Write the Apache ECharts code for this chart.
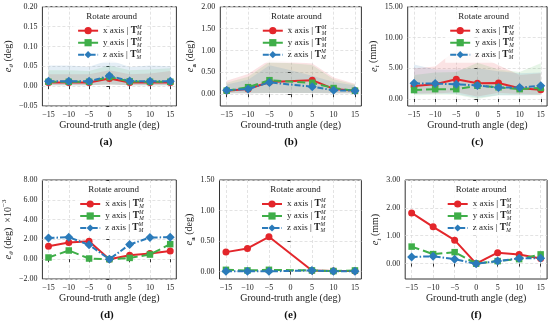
<!DOCTYPE html>
<html><head><meta charset="utf-8">
<script src="https://cdn.jsdelivr.net/npm/echarts@6/dist/echarts.min.js"></script>
<style>html,body{margin:0;padding:0;background:#fff}#c{width:550px;height:330px}</style>
</head><body><div id="c"></div>
<script>
// ---------- data ----------
const angles = [-15, -10, -5, 0, 5, 10, 15];
const xTickLabels = [-15, -10, -5, 0, 5, 10, 15];

// (a) e_theta (deg)
const aX = [0.009, 0.009, 0.009, 0.019, 0.009, 0.009, 0.009];
const aY = [0.011, 0.011, 0.011, 0.023, 0.012, 0.011, 0.011];
const aZ = [0.012, 0.012, 0.012, 0.026, 0.013, 0.012, 0.012];
const aXlo = [0.002, 0.002, 0.002, 0.004, 0.002, 0.002, 0.002];
const aXhi = [0.030, 0.030, 0.030, 0.040, 0.030, 0.032, 0.038];
const aYlo = [0.002, 0.002, 0.002, 0.004, 0.002, 0.002, 0.002];
const aYhi = [0.040, 0.040, 0.038, 0.052, 0.040, 0.042, 0.045];
const aZlo = [0.002, 0.002, 0.002, 0.004, 0.002, 0.002, 0.002];
const aZhi = [0.052, 0.052, 0.049, 0.066, 0.048, 0.052, 0.050];
const aYTicks = [-0.05, 0, 0.05, 0.10, 0.15, 0.20];

// (b) e_a (deg)  (no value at 0 deg)
const bX = [0.08, 0.12, 0.28, null, 0.32, 0.12, 0.08];
const bY = [0.08, 0.16, 0.32, null, 0.26, 0.14, 0.08];
const bZ = [0.09, 0.12, 0.27, null, 0.17, 0.09, 0.08];
const bXlo = [0.02, 0.02, 0.03, 0.03, 0.03, 0.02, 0.02];
const bXhi = [0.31, 0.46, 0.78, 0.74, 0.70, 0.38, 0.24];
const bYlo = [0.02, 0.02, 0.03, 0.03, 0.03, 0.02, 0.02];
const bYhi = [0.26, 0.40, 0.74, 0.71, 0.67, 0.34, 0.22];
const bZlo = [0.02, 0.02, 0.03, 0.03, 0.03, 0.02, 0.02];
const bZhi = [0.22, 0.33, 0.66, 0.55, 0.42, 0.28, 0.20];
const bYTicks = [0, 0.5, 1.0, 1.5, 2.0];

// (c) e_t (mm)
const cX = [2.1, 2.4, 3.2, 2.55, 2.6, 1.75, 1.5];
const cY = [1.45, 1.6, 1.6, 2.15, 1.9, 1.6, 1.8];
const cZ = [2.55, 2.5, 2.4, 2.2, 1.85, 1.85, 2.15];
const cXlo = [0.9, 0.9, 1.1, 0.4, 1.0, 0.8, 0.7];
const cXhi = [5.0, 5.3, 8.0, 7.2, 5.5, 3.9, 4.2];
const cYlo = [0.6, 0.7, 0.7, 0.0, 0.6, 0.6, 0.6];
const cYhi = [3.9, 4.3, 4.4, 5.9, 4.8, 4.4, 5.8];
const cZlo = [0.8, 0.9, 0.8, 0.2, 0.6, 0.6, 0.7];
const cZhi = [5.6, 4.8, 4.8, 5.0, 4.5, 4.2, 4.3];
const cYTicks = [0, 5, 10, 15];

// (d) e_theta (deg) x1e-3
const dX = [1.31, 1.68, 1.82, 0.0, 0.40, 0.57, 0.84];
const dY = [0.17, 0.88, 0.07, 0.0, 0.13, 0.47, 1.52];
const dZ = [2.15, 2.22, 1.45, 0.0, 1.48, 2.19, 2.22];
const dYTicks = [-2, 0, 2, 4, 6, 8];

// (e) e_a (deg)  (no value at 0 deg)
const eX = [0.32, 0.38, 0.57, null, 0.02, 0.01, 0.01];
const eY = [0.03, 0.02, 0.03, null, 0.02, 0.01, 0.02];
const eZ = [0.005, 0.005, 0.005, null, 0.02, 0.005, 0.005];
const eYTicks = [0, 0.5, 1.0, 1.5];

// (f) e_t (mm)
const fX = [1.82, 1.32, 0.84, 0.0, 0.39, 0.33, 0.18];
const fY = [0.61, 0.34, 0.41, 0.0, 0.09, 0.16, 0.33];
const fZ = [0.24, 0.26, 0.16, -0.01, 0.09, 0.19, 0.19];
const fYTicks = [0, 1, 2, 3];

const seriesNames = ['x axis', 'y axis', 'z axis'];
const captions = ['(a)', '(b)', '(c)', '(d)', '(e)', '(f)'];

// ---------- style ----------
const FONT = 'Liberation Serif';
const COLORS = ['#e3262b', '#3fae49', '#2b7bba'];
const SYMBOLS = ['circle', 'rect', 'diamond'];
const SYMSIZE = [7, 6.5, 9];
const LTYPES = ['solid', 'dashed', [6, 2, 1.5, 2]];

const panels = [
  {grid: {left: 35.6, top: 6.7, width: 140.8, height: 99.3}, ymin: -0.05, ymax: 0.2, yTicks: aYTicks,
   yname: '{i|e}{s|θ} (deg)', gap: 22, lines: [aX, aY, aZ], bands: [[aXlo, aXhi], [aYlo, aYhi], [aZlo, aZhi]]},
  {grid: {left: 220.3, top: 6.7, width: 141.1, height: 99.3}, ymin: -0.27, ymax: 2.0, yTicks: bYTicks,
   yname: '{i|e}{sb|a} (deg)', gap: 21, lines: [bX, bY, bZ], bands: [[bXlo, bXhi], [bYlo, bYhi], [bZlo, bZhi]]},
  {grid: {left: 407.7, top: 6.7, width: 139.4, height: 99.3}, ymin: -1.14, ymax: 15, yTicks: cYTicks,
   yname: '{i|e}{s|t} (mm)', gap: 26, lines: [cX, cY, cZ], bands: [[cXlo, cXhi], [cYlo, cYhi], [cZlo, cZhi]]},
  {grid: {left: 37.7, top: 180, width: 138.6, height: 99}, ymin: -2, ymax: 8, yTicks: dYTicks,
   yname: '{i|e}{s|θ} (deg)  ×10{sp|−3}', gap: 23, lines: [dX, dY, dZ], bands: null},
  {grid: {left: 219.5, top: 180, width: 141.9, height: 99}, ymin: -0.12, ymax: 1.5, yTicks: eYTicks,
   yname: '{i|e}{sb|a} (deg)', gap: 20, lines: [eX, eY, eZ], bands: null},
  {grid: {left: 405.2, top: 180, width: 141.9, height: 99}, ymin: -0.553, ymax: 3, yTicks: fYTicks,
   yname: '{i|e}{s|t} (mm)', gap: 21, lines: [fX, fY, fZ], bands: null}
];

const fmtY = v => (v < 0 ? '\u2212' : '') + Math.abs(v).toFixed(2);
const fmtX = v => (v < 0 ? '\u2212' : '') + Math.abs(v);

const grids = [], xAxes = [], yAxes = [], series = [], legends = [], graphics = [];

panels.forEach((p, pi) => {
  grids.push(Object.assign({show: true, borderColor: '#333', borderWidth: 1, backgroundColor: 'transparent'}, p.grid));
  xAxes.push({
    type: 'value', gridIndex: pi, min: -16.5, max: 16.5,
    axisLine: {show: false},
    axisTick: {show: true, length: 3, lineStyle: {color: '#333'}, customValues: xTickLabels},
    axisLabel: {customValues: xTickLabels, formatter: fmtX, fontFamily: FONT, fontSize: 8, color: '#222', margin: 5},
    splitLine: {show: true, lineStyle: {color: '#dcdcdc', type: [3, 2], width: 0.8}},
    name: 'Ground-truth angle (deg)', nameLocation: 'middle', nameGap: 14,
    nameTextStyle: {fontFamily: FONT, fontSize: 10, color: '#222'}
  });
  yAxes.push({
    type: 'value', gridIndex: pi, min: p.ymin, max: p.ymax,
    axisLine: {show: false},
    axisTick: {show: true, length: 3, lineStyle: {color: '#333'}, customValues: p.yTicks},
    axisLabel: {customValues: p.yTicks, formatter: fmtY, fontFamily: FONT, fontSize: 8, color: '#222', margin: 5},
    splitLine: {show: true, lineStyle: {color: '#dcdcdc', type: [3, 2], width: 0.8}},
    name: p.yname, nameLocation: 'middle', nameGap: p.gap,
    nameTextStyle: {
      fontFamily: FONT, fontSize: 10, color: '#222', lineHeight: 14,
      rich: {
        i: {fontFamily: FONT, fontSize: 10.5, fontStyle: 'italic', color: '#222', lineHeight: 14},
        s: {fontFamily: FONT, fontSize: 7, fontStyle: 'italic', color: '#222', verticalAlign: 'bottom', lineHeight: 8},
        sb: {fontFamily: FONT, fontSize: 7, fontWeight: 'bold', color: '#222', verticalAlign: 'bottom', lineHeight: 8},
        sp: {fontFamily: FONT, fontSize: 7, color: '#222', verticalAlign: 'top', lineHeight: 8}
      }
    }
  });

  if (p.bands) {
    p.bands.forEach((b, k) => {
      const lo = b[0], hi = b[1];
      series.push({
        type: 'custom', xAxisIndex: pi, yAxisIndex: pi, silent: true, z: 1,
        data: [[angles[0], lo[0]]],
        encode: {x: 0, y: 1},
        renderItem: (params, api) => {
          const up = angles.map((a, i) => api.coord([a, hi[i]]));
          const dn = angles.map((a, i) => api.coord([a, lo[i]])).reverse();
          return {type: 'polygon', shape: {points: up.concat(dn)},
                  style: {fill: COLORS[k], opacity: 0.13, stroke: null}};
        }
      });
    });
  }

  p.lines.forEach((vals, k) => {
    series.push({
      type: 'line', name: seriesNames[k], xAxisIndex: pi, yAxisIndex: pi, z: 3 + k,
      symbol: SYMBOLS[k], symbolSize: SYMSIZE[k], animation: false,
      lineStyle: {color: COLORS[k], width: 2, type: LTYPES[k]},
      itemStyle: {color: COLORS[k]},
      data: angles.map((a, i) => [a, vals[i]]).filter(d => d[1] !== null)
    });
  });

  const g = p.grid;
  legends.push({
    orient: 'vertical', left: g.left + 37.5, top: g.top + 5, z: 2,
    itemWidth: 20, itemHeight: 9, itemGap: 0, padding: [13, 5, 2, 4], selectedMode: false,
    backgroundColor: 'rgba(255,255,255,0.8)',
    data: seriesNames,
    formatter: n => n + ' | {b|T}{sp|M}{sb|M}',
    textStyle: {
      fontFamily: FONT, fontSize: 9, color: '#222', lineHeight: 12,
      rich: {
        b: {fontFamily: FONT, fontSize: 9.5, fontWeight: 'bold', color: '#222', lineHeight: 12},
        sp: {fontFamily: FONT, fontSize: 5.5, fontStyle: 'italic', color: '#222', verticalAlign: 'top', lineHeight: 5, width: 0.1},
        sb: {fontFamily: FONT, fontSize: 5.5, fontStyle: 'italic', color: '#222', verticalAlign: 'bottom', lineHeight: 5}
      }
    }
  });

  graphics.push({
    type: 'text', silent: true, z: 20,
    style: {text: 'Rotate around', x: g.left + 76, y: g.top + 9.8, textAlign: 'center', textVerticalAlign: 'middle', verticalAlign: 'middle',
            font: '9px "' + FONT + '"', fill: '#222'}
  });
  graphics.push({
    type: 'text', silent: true, z: 20,
    style: {text: captions[pi], x: g.left + g.width / 2, y: g.top + g.height + 36, textAlign: 'center', textVerticalAlign: 'middle', verticalAlign: 'middle',
            font: 'bold 11px "' + FONT + '"', fill: '#111'}
  });
});

const chart = echarts.init(document.getElementById('c'), null, {renderer: 'canvas'});
chart.setOption({
  backgroundColor: '#fff',
  animation: false,
  grid: grids, xAxis: xAxes, yAxis: yAxes, series: series, legend: legends,
  graphic: graphics
});
</script></body></html>
